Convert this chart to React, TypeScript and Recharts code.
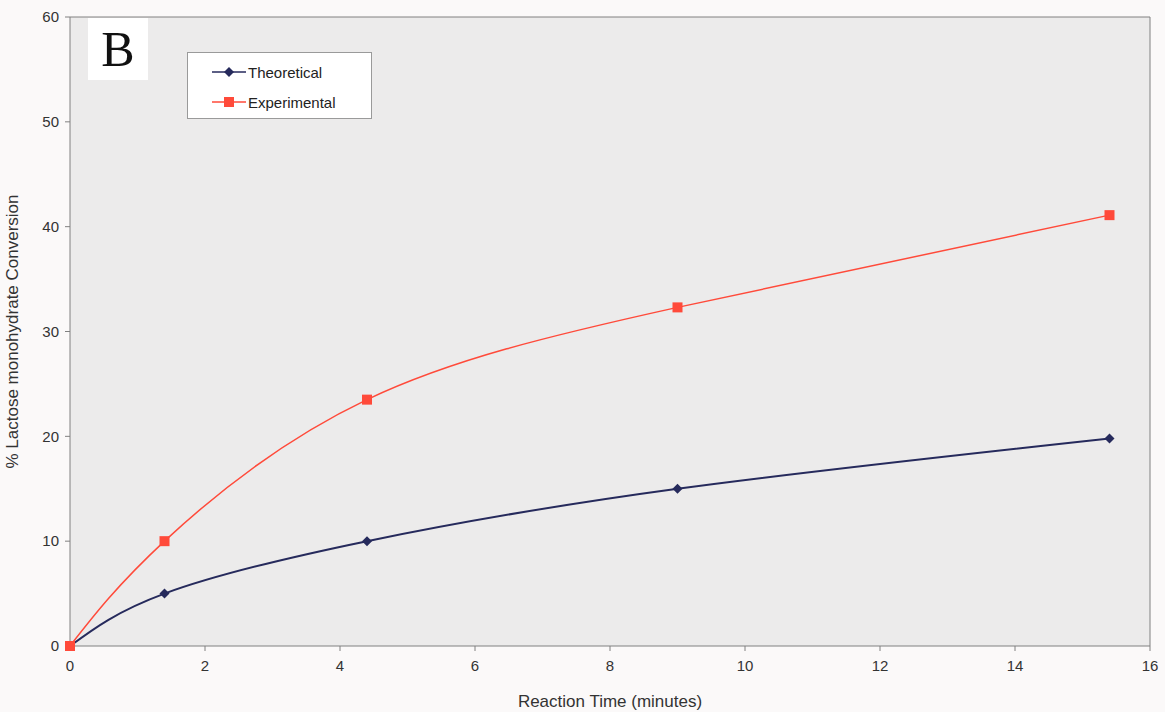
import { LineChart, Line, XAxis, YAxis, CartesianGrid, ReferenceLine } from 'recharts';

const times = [0, 1.4, 4.4, 9, 15.4];
const theoretical = [0, 5, 10, 15, 19.8];
const experimental = [0, 10, 23.5, 32.3, 41.1];
const xTicks = [0, 2, 4, 6, 8, 10, 12, 14, 16];
const yTicks = [0, 10, 20, 30, 40, 50, 60];

const NAVY = '#262a5c';
const RED = '#ff4a3a';
const FONT = '"Liberation Sans", Arial, sans-serif';

const data = times.map((t, i) => ({ t, theoretical: theoretical[i], experimental: experimental[i] }));

function Diamond(props: any) {
  const { cx, cy } = props;
  if (cx == null || cy == null) return null;
  return <polygon points={`${cx},${cy - 5} ${cx + 5},${cy} ${cx},${cy + 5} ${cx - 5},${cy}`} fill={NAVY} />;
}

function Square(props: any) {
  const { cx, cy } = props;
  if (cx == null || cy == null) return null;
  return <rect x={cx - 5} y={cy - 5} width={10} height={10} fill={RED} />;
}

function LegendBox() {
  const rows = [
    { name: 'Theoretical', color: NAVY, marker: 'diamond' },
    { name: 'Experimental', color: RED, marker: 'square' },
  ];
  return (
    <div
      style={{
        position: 'absolute',
        left: 187,
        top: 52,
        width: 185,
        height: 67,
        background: '#ffffff',
        border: '1px solid #9a9a9a',
        boxSizing: 'border-box',
        padding: '4px 0 0 24px',
        fontFamily: FONT,
        fontSize: 15,
        color: '#222',
      }}
    >
      {rows.map((r) => (
        <div key={r.name} style={{ display: 'flex', alignItems: 'center', height: 30 }}>
          <svg width={34} height={12} style={{ marginRight: 2 }}>
            <line x1={0} y1={6} x2={34} y2={6} stroke={r.color} strokeWidth={1.5} />
            {r.marker === 'diamond' ? (
              <polygon points="17,1 22,6 17,11 12,6" fill={r.color} />
            ) : (
              <rect x={12} y={1} width={10} height={10} fill={r.color} />
            )}
          </svg>
          <span>{r.name}</span>
        </div>
      ))}
    </div>
  );
}

export default function App() {
  return (
    <div style={{ position: 'absolute', left: 0, top: 0, width: 1165, height: 712, background: '#fbf9f9' }}>
      <LineChart width={1165} height={712} data={data} margin={{ top: 17, right: 15, bottom: 0, left: 0 }}>
        <CartesianGrid horizontal={false} vertical={false} fill="#ecebeb" />
        <XAxis
          dataKey="t"
          type="number"
          domain={[0, 16]}
          ticks={xTicks}
          interval={0}
          height={66}
          stroke="#808080"
          tickSize={5}
          tick={{ fill: '#333', fontSize: 15, fontFamily: FONT }}
          tickMargin={9}
          label={{
            value: 'Reaction Time (minutes)',
            position: 'insideBottom',
            offset: 5,
            fill: '#333',
            fontSize: 17,
            fontFamily: FONT,
          }}
        />
        <YAxis
          type="number"
          domain={[0, 60]}
          ticks={yTicks}
          interval={0}
          width={70}
          stroke="#808080"
          tickSize={5}
          tickMargin={6}
          tick={{ fill: '#333', fontSize: 15, fontFamily: FONT }}
          label={{
            value: '% Lactose monohydrate Conversion',
            angle: -90,
            position: 'insideLeft',
            offset: 12,
            style: { textAnchor: 'middle' },
            fill: '#333',
            fontSize: 17,
            fontFamily: FONT,
          }}
        />
        <ReferenceLine y={60} stroke="#808080" />
        <ReferenceLine x={16} stroke="#808080" />
        <Line
          type="natural"
          dataKey="theoretical"
          name="Theoretical"
          stroke={NAVY}
          strokeWidth={2}
          dot={<Diamond />}
          activeDot={false}
          isAnimationActive={false}
        />
        <Line
          type="natural"
          dataKey="experimental"
          name="Experimental"
          stroke={RED}
          strokeWidth={1.5}
          dot={<Square />}
          activeDot={false}
          isAnimationActive={false}
        />
      </LineChart>
      <LegendBox />
      <div
        style={{
          position: 'absolute',
          left: 88,
          top: 18,
          width: 60,
          height: 62,
          background: '#ffffff',
          fontFamily: '"Liberation Serif", "Times New Roman", serif',
          fontSize: 50,
          lineHeight: '62px',
          textAlign: 'center',
          color: '#111',
        }}
      >
        B
      </div>
    </div>
  );
}
